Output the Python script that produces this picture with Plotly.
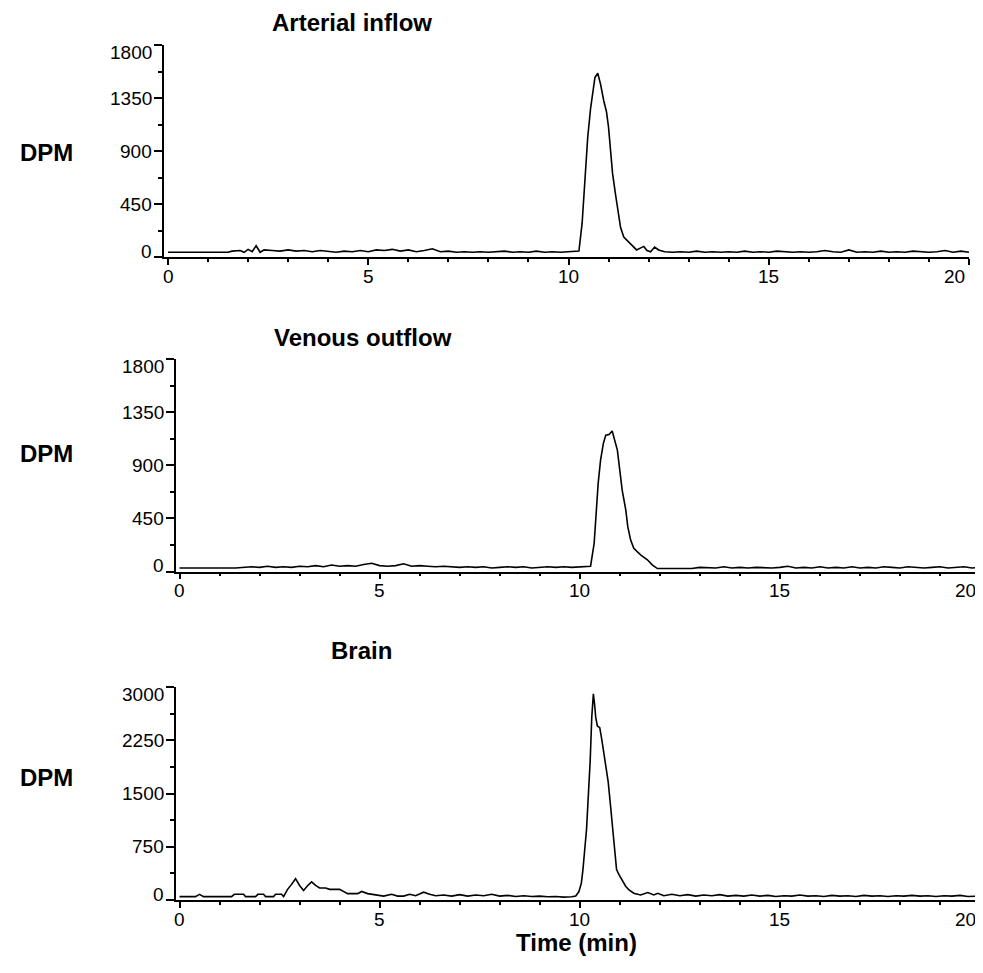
import plotly.graph_objects as go

# ---------------- data ----------------
arterial_t = [0, 0.5, 1.0, 1.5, 1.6, 1.8, 1.9, 2.0, 2.1, 2.2, 2.3, 2.4, 2.6, 2.8, 3.0, 3.2, 3.4, 3.6, 3.8,
              4.0, 4.2, 4.4, 4.6, 4.8, 5.0, 5.2, 5.4, 5.6, 5.8, 6.0, 6.2, 6.4, 6.6, 6.8, 7.0, 7.2, 7.4,
              7.6, 7.8, 8.0, 8.2, 8.4, 8.6, 8.8, 9.0, 9.2, 9.4, 9.6, 9.8, 10.0, 10.2, 10.26, 10.34,
              10.38, 10.44, 10.48, 10.55, 10.61, 10.66, 10.73, 10.80, 10.88, 10.95, 11.0, 11.05, 11.1,
              11.17, 11.23, 11.3, 11.38, 11.5, 11.6, 11.7, 11.8, 11.88, 11.96, 12.05, 12.15, 12.25,
              12.4, 12.6, 12.8, 13.0, 13.2, 13.4, 13.6, 13.8, 14.0, 14.2, 14.4, 14.6, 14.8, 15.0, 15.2,
              15.4, 15.6, 15.8, 16.0, 16.2, 16.4, 16.6, 16.8, 17.0, 17.2, 17.4, 17.6, 17.8, 18.0, 18.2,
              18.4, 18.6, 18.8, 19.0, 19.2, 19.4, 19.6, 19.8, 20.0]
arterial_dpm = [40, 40, 40, 40, 50, 55, 40, 65, 45, 95, 40, 60, 55, 50, 60, 50, 55, 45, 55,
                45, 40, 50, 45, 55, 45, 60, 55, 65, 50, 60, 45, 55, 70, 45, 50, 40, 45,
                40, 45, 40, 45, 50, 40, 45, 40, 50, 40, 45, 40, 45, 45, 50, 287,
                480, 735, 1017, 1257, 1425, 1524, 1560, 1468, 1327, 1230, 1101, 900, 710,
                540, 400, 250, 170, 125, 95, 60, 80, 90, 55, 45, 85, 60,
                45, 40, 45, 40, 50, 40, 45, 40, 45, 40, 50, 40, 45, 40, 50,
                45, 40, 45, 40, 45, 55, 45, 40, 60, 40, 45, 40, 50, 40, 45,
                40, 50, 45, 40, 45, 55, 40, 50, 40]

venous_t = [0, 0.5, 1.0, 1.4, 1.8, 2.0, 2.2, 2.4, 2.6, 2.8, 3.0, 3.2, 3.4, 3.6, 3.8, 4.0, 4.2, 4.4,
            4.6, 4.8, 5.0, 5.2, 5.4, 5.6, 5.8, 6.0, 6.2, 6.4, 6.6, 6.8, 7.0, 7.2, 7.4, 7.6, 7.8, 8.0,
            8.2, 8.4, 8.6, 8.8, 9.0, 9.2, 9.4, 9.6, 9.8, 10.0, 10.2, 10.27, 10.36, 10.40, 10.46,
            10.52, 10.59, 10.65, 10.73, 10.81, 10.87, 10.94, 11.0, 11.06, 11.15, 11.2, 11.27, 11.35,
            11.52, 11.69, 11.81, 11.94, 12.2, 12.4, 12.6, 12.8, 13.0, 13.2, 13.4, 13.6, 13.8, 14.0,
            14.2, 14.4, 14.6, 14.8, 15.0, 15.2, 15.4, 15.6, 15.8, 16.0, 16.2, 16.4, 16.6, 16.8, 17.0,
            17.2, 17.4, 17.6, 17.8, 18.0, 18.2, 18.4, 18.6, 18.8, 19.0, 19.2, 19.4, 19.6, 19.8, 20.0]
venous_dpm = [30, 30, 35, 30, 40, 35, 45, 35, 40, 35, 45, 40, 50, 40, 55, 45, 50, 45,
              60, 70, 50, 45, 50, 65, 45, 50, 45, 40, 45, 40, 35, 40, 35, 40, 30, 35,
              40, 35, 40, 30, 35, 40, 35, 40, 35, 40, 40, 45, 239, 465, 746,
              944, 1085, 1155, 1160, 1190, 1113, 1028, 859, 690, 521, 380, 268, 197,
              141, 99, 56, 25, 25, 25, 30, 25, 35, 30, 30, 40, 30, 35,
              30, 35, 30, 30, 35, 45, 30, 35, 30, 40, 30, 35, 30, 40, 30,
              35, 30, 40, 35, 30, 40, 35, 30, 35, 40, 30, 35, 40, 30, 35]

brain_t = [0, 0.4, 0.5, 0.6, 1.0, 1.3, 1.37, 1.6, 1.65, 1.9, 1.96, 2.1, 2.15, 2.35, 2.4, 2.55, 2.6,
           2.7, 2.8, 2.9, 3.0, 3.1, 3.2, 3.3, 3.4, 3.5, 3.65, 3.75, 4.0, 4.2, 4.45, 4.55, 4.7, 5.0,
           5.1, 5.3, 5.45, 5.6, 5.75, 5.9, 6.1, 6.25, 6.4, 6.6, 6.8, 7.0, 7.2, 7.4, 7.6, 7.8, 8.0,
           8.2, 8.4, 8.6, 8.8, 9.0, 9.2, 9.4, 9.6, 9.8, 9.9, 9.98, 10.04, 10.08, 10.12, 10.17,
           10.21, 10.26, 10.30, 10.34, 10.37, 10.40, 10.44, 10.50, 10.55, 10.59, 10.65, 10.71,
           10.76, 10.82, 10.87, 10.92, 10.98, 11.06, 11.15, 11.23, 11.35, 11.52, 11.7, 11.85, 11.95,
           12.1, 12.3, 12.5, 12.7, 12.9, 13.1, 13.3, 13.5, 13.7, 13.9, 14.1, 14.3, 14.5, 14.7, 14.9,
           15.1, 15.3, 15.5, 15.7, 15.9, 16.1, 16.3, 16.5, 16.7, 16.9, 17.1, 17.3, 17.5, 17.7, 17.9,
           18.1, 18.3, 18.5, 18.7, 18.9, 19.1, 19.3, 19.5, 19.7, 19.9, 20.0]
brain_dpm = [48, 48, 80, 48, 48, 48, 80, 80, 48, 48, 80, 80, 48, 48, 80, 80, 48,
             150, 220, 300, 205, 135, 200, 255, 205, 170, 170, 150, 150, 90, 90, 120, 90, 70,
             55, 80, 55, 55, 80, 60, 110, 80, 60, 70, 55, 75, 55, 70, 60, 80, 55,
             65, 50, 60, 50, 55, 45, 50, 40, 45, 57, 119, 238, 428, 690, 1000,
             1428, 1952, 2570, 2904, 2760, 2570, 2451, 2428, 2261, 2094, 1904, 1666,
             1380, 1047, 714, 428, 357, 286, 190, 143, 95, 71, 105, 71, 95,
             60, 80, 60, 75, 55, 70, 60, 75, 55, 65, 55, 70, 55, 65, 50,
             60, 55, 70, 55, 60, 50, 65, 55, 60, 50, 65, 55, 60, 50, 60,
             55, 65, 55, 60, 50, 60, 55, 65, 50, 60, 55]

panel_titles = ["Arterial inflow", "Venous outflow", "Brain"]
y_label = "DPM"
x_label = "Time (min)"
x_ticks = [0, 5, 10, 15, 20]
y_ticks_small = [0, 450, 900, 1350, 1800]
y_ticks_brain = [0, 750, 1500, 2250, 3000]

# ---------------- layout helpers ----------------
# page body has an 8px margin; the figure fills the rest of the window
OFF = 8
W, H = 983 - OFF, 973 - OFF
def px(x):
    return (x - OFF) / W
def py(y):
    return 1 - (y - OFF) / H

FONT = "Arial, Liberation Sans, sans-serif"
TICK_FONT = dict(family=FONT, size=19, color="black")
BOLD_FONT = dict(family=FONT, size=24, color="black")

fig = go.Figure()
series = [(arterial_t, arterial_dpm), (venous_t, venous_dpm), (brain_t, brain_dpm)]
for i, (t, v) in enumerate(series):
    sfx = "" if i == 0 else str(i + 1)
    fig.add_trace(go.Scatter(x=t, y=v, mode="lines", line=dict(color="black", width=1.6),
                             xaxis="x" + sfx, yaxis="y" + sfx, showlegend=False, hoverinfo="skip"))

# pixel geometry of each panel (window pixels)
panels = [
    dict(l=164, r=969, t=45, b=257, yt=y_ticks_small, ttl=(352, 22), dpm=152),
    dict(l=175.5, r=980, t=359, b=571.5, yt=y_ticks_small, ttl=(363, 337), dpm=453),
    dict(l=175.5, r=980, t=687, b=900, yt=y_ticks_brain, ttl=(361, 650), dpm=777),
]

axis_common = dict(showline=True, linecolor="black", linewidth=1.5, ticks="outside",
                   tickcolor="black", tickwidth=1.5, showgrid=False, zeroline=False,
                   showticklabels=False, fixedrange=True)

annotations = []
def note(text, x, y, xref="paper", yref="paper", xanchor="center", yanchor="middle",
         font=TICK_FONT, yshift=0):
    annotations.append(dict(text=text, x=x, y=y, xref=xref, yref=yref, showarrow=False,
                            xanchor=xanchor, yanchor=yanchor, font=font, yshift=yshift))

for i, p in enumerate(panels):
    sfx = "" if i == 0 else str(i + 1)
    ystep = p["yt"][1] - p["yt"][0]
    fig.layout["xaxis" + sfx] = dict(
        axis_common, domain=[px(p["l"]), px(p["r"])], range=[-0.1, 20],
        anchor="y" + sfx, tickvals=x_ticks, ticklen=6,
        minor=dict(ticks="outside", ticklen=3, tickwidth=1.5, tickcolor="black", dtick=1, tick0=0),
    )
    fig.layout["yaxis" + sfx] = dict(
        axis_common, domain=[py(p["b"]), py(p["t"])], range=[0, p["yt"][-1]],
        anchor="x" + sfx, tickvals=p["yt"], ticklen=8,
        minor=dict(ticks="outside", ticklen=4, tickwidth=1.5, tickcolor="black",
                   dtick=ystep / 2, tick0=0),
    )
    # y tick labels (end labels kept inside the axis extent, as in the original)
    for k, v in enumerate(p["yt"]):
        shift = 0
        if k == 0:
            shift = 6
        elif k == len(p["yt"]) - 1:
            shift = -7
        note(str(v), px(p["l"] - 10), v, yref="y" + sfx, xanchor="right", yshift=shift)
    # x tick labels (last one right-aligned at its tick)
    for k, v in enumerate(x_ticks):
        if k == len(x_ticks) - 1:
            note(str(v), px(p["r"] - 2), py(p["b"] + 19), xanchor="right")
        else:
            note(str(v), v, py(p["b"] + 19), xref="x" + sfx)
    note("<b>%s</b>" % panel_titles[i], px(p["ttl"][0]), py(p["ttl"][1]), font=BOLD_FONT)
    note("<b>%s</b>" % y_label, px(46), py(p["dpm"]), font=BOLD_FONT)

note("<b>%s</b>" % x_label, px(576), py(942), font=BOLD_FONT)

fig.update_layout(width=W, height=H, margin=dict(l=0, r=0, t=0, b=0, autoexpand=False),
                  paper_bgcolor="white", plot_bgcolor="white", annotations=annotations,
                  font=dict(family=FONT, color="black"))

fig.write_html("out.html", config={"displayModeBar": False})
